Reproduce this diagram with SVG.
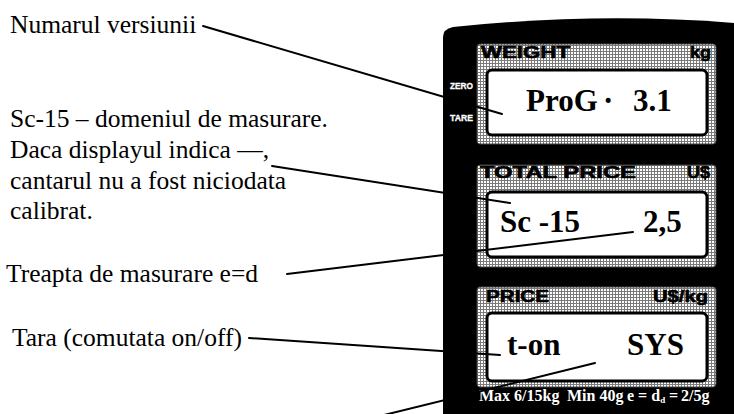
<svg xmlns="http://www.w3.org/2000/svg" width="734" height="414" viewBox="0 0 734 414">
<defs>
<pattern id="hatch" width="3" height="3" patternUnits="userSpaceOnUse">
<rect width="3" height="3" fill="#ffffff"/>
<rect width="3" height="1" fill="#7a7a7a"/>
<rect width="1" height="3" fill="#7a7a7a"/>
</pattern>
<style>
.lbl{font-family:"Liberation Serif","Times New Roman",serif;font-size:25.5px;fill:#000}
.frame{fill:url(#hatch);stroke:#444;stroke-width:1}
.win{fill:#fff;stroke:#000;stroke-width:3}
.cap{font-family:"Liberation Sans",Arial,sans-serif;font-weight:bold;font-size:16px;fill:#000;stroke:#000;stroke-width:0.6}
.big{font-family:"Liberation Serif","Times New Roman",serif;font-weight:bold;font-size:31px;fill:#000}
.key{font-family:"Liberation Sans",Arial,sans-serif;font-weight:bold;font-size:9px;fill:#fff;stroke:#fff;stroke-width:0.3}
.spec{font-family:"Liberation Serif","Times New Roman",serif;font-weight:bold;font-size:16px;fill:#fff}
.conn{stroke:#000;stroke-width:2;fill:none;stroke-linecap:round}
</style>
</defs>
<rect width="734" height="414" fill="#fff"/>

<g id="panel">
<path d="M443,414 L443,37 Q443,29 453,27 Q598,12 734,23 L734,414 Z" fill="#000"/>
<text class="key" x="450" y="89" textLength="23" lengthAdjust="spacingAndGlyphs">ZERO</text>
<text class="key" x="450" y="121" textLength="23" lengthAdjust="spacingAndGlyphs">TARE</text>
</g>

<g id="display-weight">
<rect class="frame" x="477" y="44" width="239" height="100" rx="3"/>
<rect class="win" x="487" y="70" width="220" height="65" rx="5"/>
<text class="cap" x="481" y="58" textLength="89" lengthAdjust="spacingAndGlyphs">WEIGHT</text>
<text class="cap" x="690" y="58" textLength="21" lengthAdjust="spacingAndGlyphs">kg</text>
<text class="big" x="526" y="111">ProG<tspan x="603">·</tspan><tspan x="633">3.1</tspan></text>
</g>

<g id="display-total-price">
<rect class="frame" x="477" y="165" width="239" height="102" rx="3"/>
<rect class="win" x="487" y="192" width="220" height="65" rx="5"/>
<text class="cap" x="480" y="178" textLength="156" lengthAdjust="spacingAndGlyphs">TOTAL PRICE</text>
<text class="cap" x="687" y="178" textLength="23" lengthAdjust="spacingAndGlyphs">U$</text>
<text class="big" x="500" y="232">Sc -15<tspan x="643">2,5</tspan></text>
</g>

<g id="display-price">
<rect class="frame" x="477" y="287" width="239" height="100" rx="3"/>
<rect class="win" x="487" y="313" width="220" height="68" rx="5"/>
<text class="cap" x="486" y="302" textLength="63" lengthAdjust="spacingAndGlyphs">PRICE</text>
<text class="cap" x="653" y="302" textLength="55" lengthAdjust="spacingAndGlyphs">U$/kg</text>
<text class="big" x="507" y="355">t-on<tspan x="627">SYS</tspan></text>
</g>

<g id="spec">
<text class="spec" y="401"><tspan x="479">Max 6/15kg</tspan><tspan x="567">Min 40g</tspan><tspan x="627">e = d</tspan><tspan font-size="9" dy="2">d</tspan><tspan x="669" dy="-2">=</tspan><tspan x="681">2/5g</tspan></text>
</g>

<g id="label-version"><text class="lbl" x="10" y="33">Numarul versiunii</text></g>
<g id="label-range">
<text class="lbl" x="10" y="127">Sc-15 – domeniul de masurare.</text>
<text class="lbl" x="10" y="158">Daca displayul indica —,</text>
<text class="lbl" x="10" y="189">cantarul nu a fost niciodata</text>
<text class="lbl" x="10" y="219">calibrat.</text>
</g>
<g id="label-step"><text class="lbl" x="6" y="282">Treapta de masurare e=d</text></g>
<g id="label-tare"><text class="lbl" x="12" y="346">Tara (comutata on/off)</text></g>

<g id="connectors">
<line class="conn" x1="203" y1="26" x2="502" y2="114"/>
<line class="conn" x1="272" y1="166" x2="510" y2="203"/>
<line class="conn" x1="287" y1="274" x2="633" y2="232"/>
<line class="conn" x1="249" y1="338" x2="500" y2="355"/>
<line class="conn" x1="380" y1="416" x2="595" y2="363"/>
</g>
</svg>
